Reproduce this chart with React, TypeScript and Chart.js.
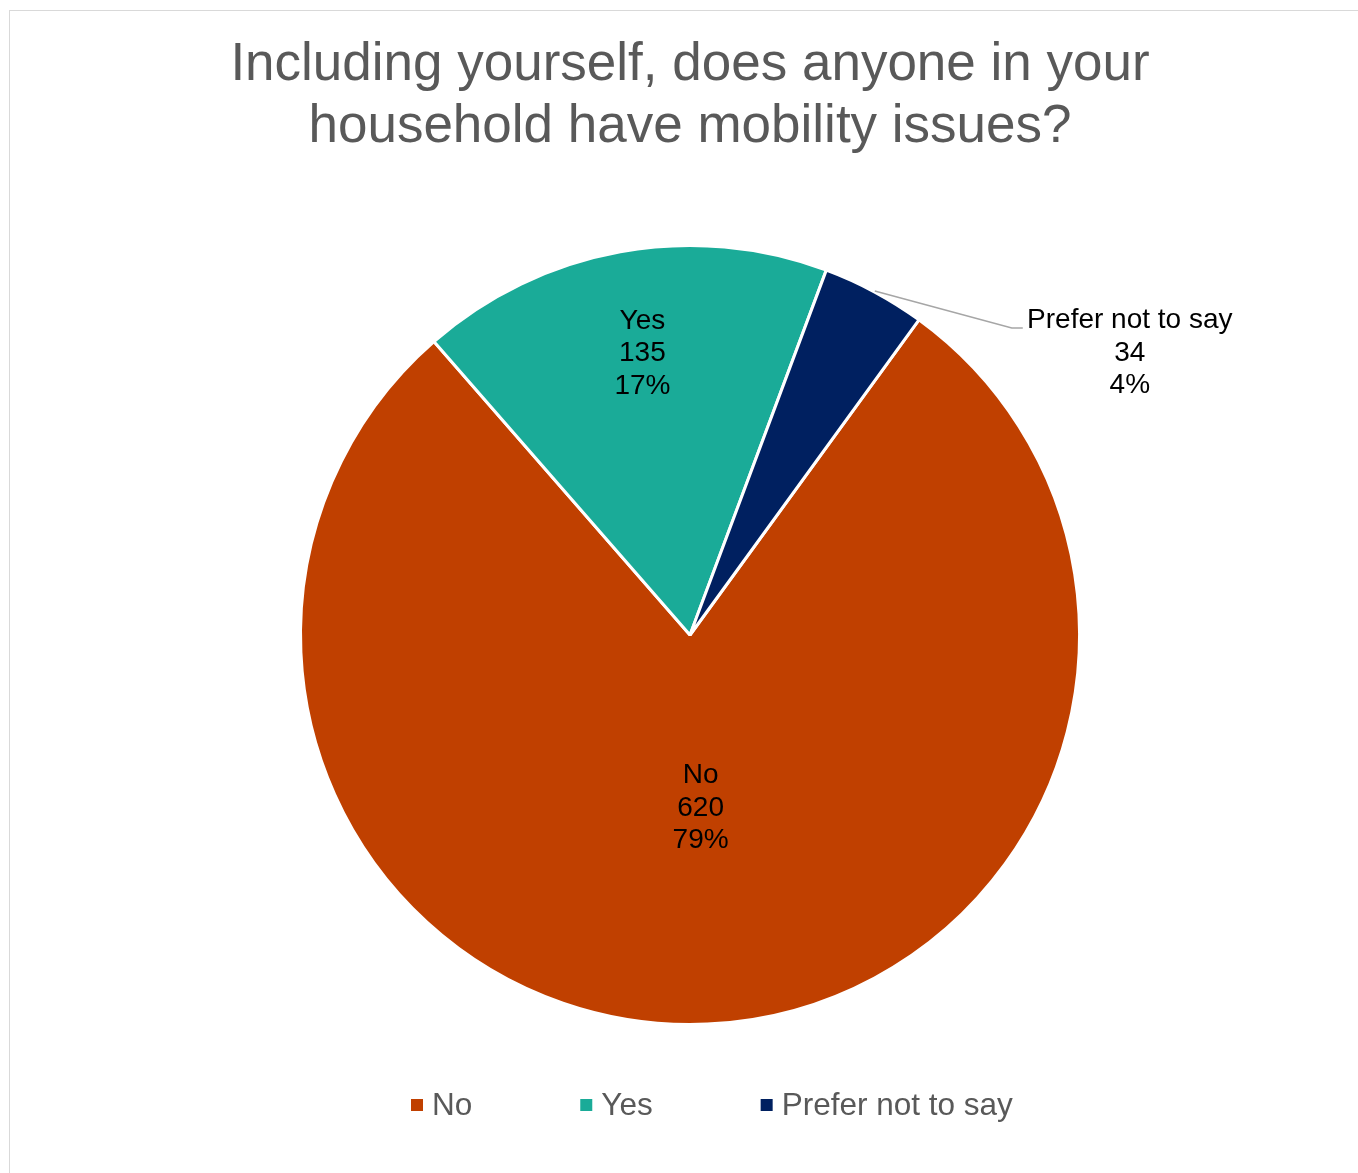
import React, { useEffect, useRef } from "react";
import { Chart, registerables } from "chart.js";

Chart.register(...registerables);

const categories: string[] = ["No", "Yes", "Prefer not to say"];
const counts: number[] = [620, 135, 34];
const colors: string[] = ["#C04000", "#1AAB98", "#002060"];
const titleLines: string[] = ["Including yourself, does anyone in your", "household have mobility issues?"];

const FONT = '"Liberation Sans", Arial, sans-serif';

const decorPlugin = {
  id: "decor",
  afterDraw(chart: any) {
    const ctx = chart.ctx as CanvasRenderingContext2D;
    const meta = chart.getDatasetMeta(0);
    const total = counts.reduce((a, b) => a + b, 0);
    ctx.save();

    // Title
    ctx.fillStyle = "#595959";
    ctx.font = `53px ${FONT}`;
    ctx.textAlign = "center";
    ctx.textBaseline = "alphabetic";
    titleLines.forEach((t, i) => ctx.fillText(t, 690, 80 + i * 62));

    // Data labels
    ctx.font = `28px ${FONT}`;
    ctx.fillStyle = "#000000";
    ctx.textBaseline = "middle";
    const fracs = [0.44, 0.74];
    const dxs = [3, 4];
    meta.data.forEach((arc: any, i: number) => {
      const p = arc.getProps(["x", "y", "startAngle", "endAngle", "outerRadius"], true);
      const mid = (p.startAngle + p.endAngle) / 2;
      const pct = Math.round((counts[i] / total) * 100) + "%";
      const lines = [categories[i], String(counts[i]), pct];
      const lh = 32.5;
      if (i < 2) {
        const cx = p.x + Math.cos(mid) * p.outerRadius * fracs[i] + dxs[i];
        const cy = p.y + Math.sin(mid) * p.outerRadius * fracs[i] + 2;
        lines.forEach((l, k) => ctx.fillText(l, cx, cy + (k - 1) * lh));
      } else {
        const ex = p.x + Math.cos(mid) * (p.outerRadius + 1);
        const ey = p.y + Math.sin(mid) * (p.outerRadius + 1);
        const bx = ex + 137;
        const by = ey + 37;
        const lx = bx + 11;
        ctx.strokeStyle = "#A6A6A6";
        ctx.lineWidth = 1.5;
        ctx.beginPath();
        ctx.moveTo(ex, ey);
        ctx.lineTo(bx, by);
        ctx.lineTo(lx, by);
        ctx.stroke();
        const tx = lx + 107;
        const ty = by + 25;
        lines.forEach((l, k) => ctx.fillText(l, tx, ty + (k - 1) * lh));
      }
    });

    // Legend
    ctx.font = `31.5px ${FONT}`;
    ctx.textAlign = "left";
    ctx.textBaseline = "middle";
    let x = 411;
    const ly = 1105;
    categories.forEach((c, i) => {
      ctx.fillStyle = colors[i];
      ctx.fillRect(x, ly - 6, 12, 12);
      ctx.fillStyle = "#595959";
      ctx.fillText(c, x + 21, ly + 1);
      x += 21 + ctx.measureText(c).width + 108;
    });
    ctx.restore();
  },
};

export default function App() {
  const ref = useRef<HTMLCanvasElement | null>(null);
  useEffect(() => {
    if (!ref.current) return;
    const chart = new Chart(ref.current, {
      type: "pie",
      data: {
        labels: categories,
        datasets: [
          {
            data: counts,
            backgroundColor: colors,
            borderColor: "#FFFFFF",
            borderWidth: 3,
          },
        ],
      },
      options: {
        responsive: false,
        animation: false,
        rotation: 36,
        layout: { padding: { left: 299, right: 277, top: 244, bottom: 147 } },
        plugins: {
          legend: { display: false },
          title: { display: false },
          tooltip: { enabled: false },
        },
      },
      plugins: [decorPlugin],
    });
    return () => chart.destroy();
  }, []);
  return (
    <div style={{ position: "fixed", left: 0, top: 0, width: "100vw", height: "100vh", overflow: "hidden", background: "#fff" }}>
      <div
        style={{
          position: "absolute",
          left: 9,
          top: 10,
          width: 1400,
          height: 1300,
          border: "1px solid #D9D9D9",
          boxSizing: "border-box",
        }}
      />
      <canvas ref={ref} width={1358} height={1173} style={{ position: "absolute", left: 0, top: 0, width: 1358, height: 1173 }} />
    </div>
  );
}
